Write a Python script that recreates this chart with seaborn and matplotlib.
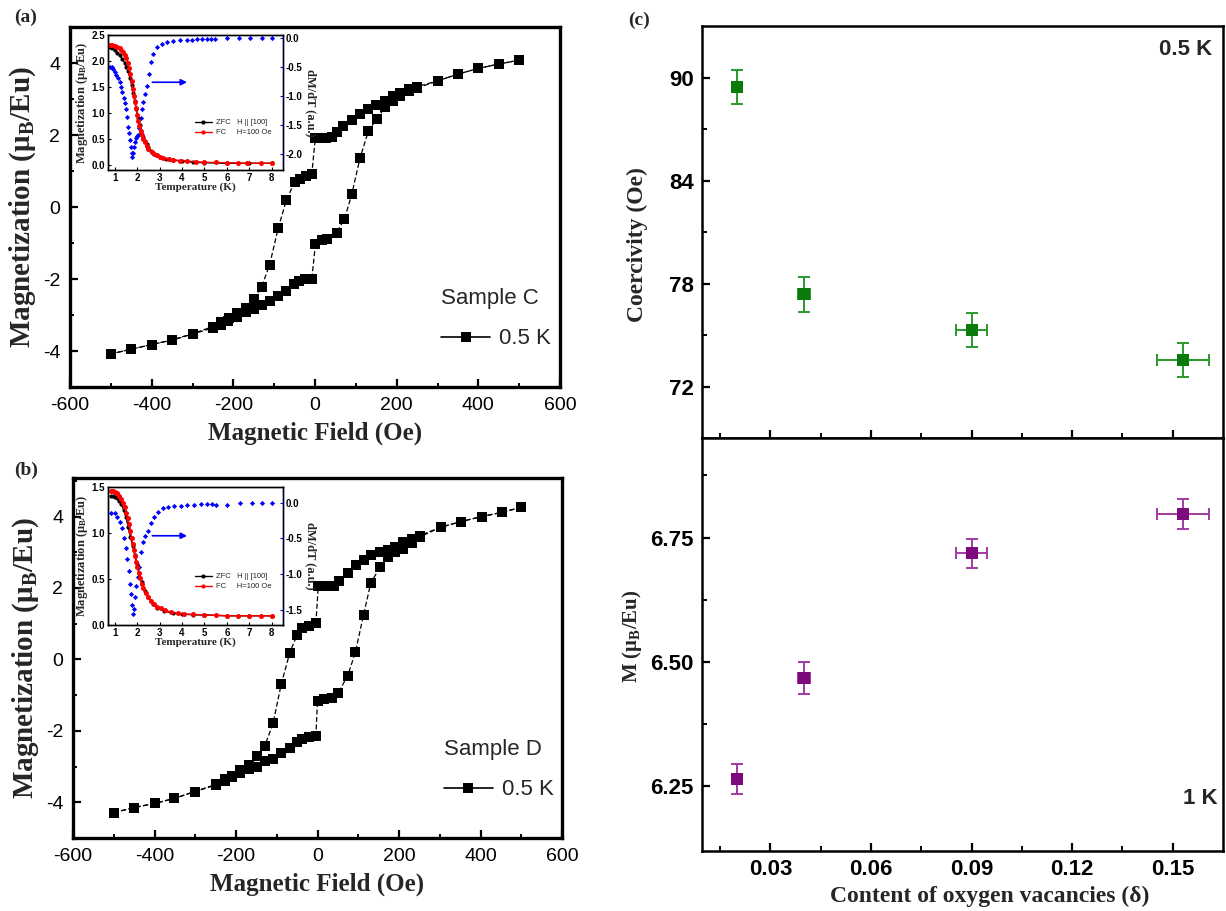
import matplotlib
matplotlib.use("Agg")
import matplotlib.pyplot as plt
from matplotlib.lines import Line2D
from matplotlib.ticker import MultipleLocator, FixedLocator, FormatStrFormatter
from matplotlib import font_manager
import seaborn as sns

# ---------------- Hysteresis loops at 0.5 K ----------------
# Sample C, field sweep +500 -> -500 Oe
c_down_H = [500, 450, 400, 350, 302, 249, 231, 208, 190, 172, 149, 131, 110, 90, 69, 53, 41, 28, 14, 1,
            -8, -22, -36, -50, -70, -90, -111, -131, -150, -168, -190, -210, -231, -250, -300, -350,
            -400, -450, -500]
c_down_M = [4.08, 3.97, 3.85, 3.69, 3.51, 3.34, 3.28, 3.18, 3.09, 2.95, 2.84, 2.72, 2.58, 2.41, 2.25,
            2.07, 1.95, 1.92, 1.92, 1.93, 0.91, 0.86, 0.79, 0.70, 0.19, -0.58, -1.60, -2.23, -2.55,
            -2.80, -2.95, -3.08, -3.20, -3.32, -3.52, -3.69, -3.82, -3.95, -4.08]
# Sample C, field sweep -500 -> +500 Oe
c_up_H = [-500, -450, -400, -350, -300, -250, -231, -213, -190, -168, -150, -131, -111, -90, -70, -51,
          -38, -24, -8, 1, 17, 30, 53, 72, 90, 110, 131, 151, 172, 190, 208, 231, 249, 302, 350, 400,
          450, 500]
c_up_M = [-4.08, -3.95, -3.82, -3.70, -3.53, -3.36, -3.27, -3.17, -3.05, -2.93, -2.83, -2.73, -2.62,
          -2.48, -2.32, -2.15, -2.06, -2.01, -2.01, -1.04, -0.93, -0.90, -0.71, -0.34, 0.35, 1.35,
          2.12, 2.44, 2.78, 2.95, 3.09, 3.21, 3.30, 3.51, 3.69, 3.85, 3.97, 4.08]

# Sample D
d_down_H = [500, 453, 403, 352, 302, 251, 233, 210, 191, 173, 153, 131, 113, 95, 74, 53, 40, 28, 15, 2,
            -4, -22, -39, -50, -68, -89, -109, -129, -149, -169, -190, -209, -227, -250, -301, -351,
            -399, -451, -500]
d_down_M = [4.26, 4.12, 4.00, 3.86, 3.70, 3.47, 3.38, 3.29, 3.15, 3.06, 3.00, 2.92, 2.78, 2.64, 2.41,
            2.19, 2.07, 2.05, 2.05, 2.06, 1.02, 0.93, 0.88, 0.69, 0.19, -0.69, -1.79, -2.41, -2.71,
            -2.96, -3.10, -3.25, -3.35, -3.50, -3.70, -3.89, -4.03, -4.15, -4.29]
d_up_H = [-500, -451, -399, -351, -301, -250, -227, -209, -190, -169, -149, -129, -109, -89, -68, -50,
          -39, -22, -4, 0, 17, 35, 51, 74, 93, 113, 131, 154, 173, 191, 211, 233, 251, 302, 352, 403,
          453, 500]
d_up_M = [-4.29, -4.15, -4.03, -3.89, -3.70, -3.52, -3.40, -3.29, -3.19, -3.08, -3.00, -2.85, -2.78,
          -2.62, -2.47, -2.31, -2.22, -2.16, -2.14, -1.16, -1.11, -1.09, -0.93, -0.46, 0.20, 1.25,
          2.15, 2.59, 2.87, 3.01, 3.10, 3.27, 3.43, 3.70, 3.86, 4.00, 4.12, 4.26]

# ---------------- M(T) insets (H || [100], H = 100 Oe) ----------------
c_fc_T = [0.78, 0.9, 1.0, 1.1, 1.22, 1.3, 1.37, 1.45, 1.52, 1.58, 1.64, 1.7, 1.75, 1.8, 1.85, 1.9,
          1.94, 2.0, 2.04, 2.1, 2.15, 2.2, 2.27, 2.35, 2.42, 2.5, 2.64, 2.75, 2.87, 3.0, 3.16, 3.4,
          3.61, 3.9, 4.21, 4.6, 4.96, 5.5, 6.0, 6.5, 6.9, 7.5, 8.0]
c_fc_M = [2.30, 2.30, 2.29, 2.27, 2.24, 2.21, 2.18, 2.12, 2.05, 1.96, 1.86, 1.74, 1.61, 1.46, 1.32,
          1.20, 1.10, 0.96, 0.84, 0.74, 0.65, 0.57, 0.50, 0.43, 0.37, 0.31, 0.25, 0.21, 0.18, 0.15,
          0.13, 0.11, 0.10, 0.08, 0.07, 0.06, 0.05, 0.045, 0.04, 0.035, 0.03, 0.03, 0.03]
c_zfc_T = [0.78, 0.9, 1.0, 1.1, 1.22, 1.33, 1.45, 1.52, 1.6, 1.68, 1.75, 1.82, 1.9, 1.97, 2.04, 2.12,
           2.19, 2.27, 2.34, 2.42, 2.49, 2.6, 2.72, 2.85, 3.01, 3.3, 3.6, 4.0, 4.5, 5.0, 6.0, 7.0, 8.0]
c_zfc_M = [2.27, 2.24, 2.21, 2.16, 2.11, 2.04, 1.96, 1.88, 1.80, 1.67, 1.54, 1.39, 1.23, 1.07, 0.91,
           0.76, 0.62, 0.54, 0.46, 0.40, 0.34, 0.27, 0.22, 0.18, 0.15, 0.11, 0.09, 0.07, 0.05, 0.04,
           0.03, 0.03, 0.03]
c_dmdt_T = [0.78, 0.86, 0.93, 1.0, 1.07, 1.15, 1.22, 1.28, 1.34, 1.40, 1.45, 1.50, 1.55, 1.60, 1.64,
            1.67, 1.71, 1.75, 1.79, 1.83, 1.87, 1.91, 1.95, 2.0, 2.05, 2.1, 2.15, 2.2, 2.24, 2.35, 2.45,
            2.54, 2.6, 2.72, 2.87, 3.09, 3.31, 3.61, 3.91, 4.21, 4.45, 4.66, 4.9, 5.1, 5.3, 5.48, 6.0,
            6.52, 7.04, 7.57, 8.01]
c_dmdt = [-0.49, -0.50, -0.52, -0.57, -0.63, -0.69, -0.75, -0.83, -0.92, -1.02, -1.12, -1.22, -1.35,
          -1.52, -1.64, -1.75, -1.88, -1.98, -2.04, -1.98, -1.88, -1.78, -1.72, -1.68, -1.66, -1.55,
          -1.38, -1.22, -1.09, -0.95, -0.82, -0.61, -0.40, -0.26, -0.14, -0.09, -0.06, -0.04, -0.03,
          -0.02, -0.02, -0.01, -0.01, -0.01, -0.01, -0.01, 0.0, 0.0, 0.0, 0.01, 0.01]

d_fc_T = [0.85, 0.93, 1.0, 1.1, 1.2, 1.3, 1.38, 1.45, 1.52, 1.58, 1.64, 1.7, 1.75, 1.8, 1.85, 1.9,
          1.95, 2.0, 2.06, 2.12, 2.2, 2.28, 2.38, 2.5, 2.62, 2.75, 2.9, 3.05, 3.25, 3.5, 3.8, 4.1,
          4.5, 5.0, 5.5, 6.0, 6.5, 7.0, 7.5, 8.0]
d_fc_M = [1.46, 1.46, 1.45, 1.43, 1.40, 1.37, 1.33, 1.28, 1.22, 1.16, 1.10, 1.02, 0.95, 0.88, 0.81,
          0.75, 0.69, 0.63, 0.57, 0.51, 0.45, 0.40, 0.35, 0.30, 0.26, 0.23, 0.20, 0.18, 0.16, 0.14,
          0.13, 0.12, 0.115, 0.11, 0.105, 0.10, 0.10, 0.10, 0.10, 0.10]
d_zfc_T = [0.85, 0.93, 1.0, 1.1, 1.2, 1.3, 1.4, 1.5, 1.6, 1.7, 1.8, 1.9, 2.0, 2.1, 2.2, 2.35, 2.5,
           2.7, 2.9, 3.2, 3.6, 4.0, 4.5, 5.0, 6.0, 7.0, 8.0]
d_zfc_M = [1.40, 1.40, 1.39, 1.38, 1.35, 1.31, 1.25, 1.17, 1.07, 0.96, 0.86, 0.76, 0.66, 0.56, 0.47,
           0.37, 0.30, 0.23, 0.19, 0.15, 0.13, 0.12, 0.11, 0.11, 0.10, 0.10, 0.10]
d_dmdt_T = [0.85, 1.0, 1.12, 1.22, 1.32, 1.41, 1.49, 1.56, 1.63, 1.69, 1.74, 1.78, 1.81, 1.85, 1.91,
            1.97, 2.03, 2.1, 2.18, 2.25, 2.36, 2.47, 2.62, 2.77, 2.92, 3.14, 3.36, 3.65, 3.95, 4.24,
            4.54, 4.83, 5.13, 5.35, 5.5, 6.0, 6.6, 7.12, 7.56, 8.0]
d_dmdt = [-0.15, -0.15, -0.20, -0.27, -0.36, -0.50, -0.64, -0.78, -0.95, -1.13, -1.27, -1.43, -1.55,
          -1.48, -1.32, -1.16, -1.04, -0.90, -0.69, -0.55, -0.46, -0.39, -0.29, -0.20, -0.13, -0.08,
          -0.06, -0.05, -0.04, -0.03, -0.03, -0.02, -0.02, -0.02, -0.03, -0.03, -0.01, 0.0, 0.0, 0.0]

# ---------------- Panel (c): coercivity and magnetization vs delta ----------------
delta = [0.020, 0.040, 0.090, 0.153]
delta_err = [0.0, 0.0018, 0.0047, 0.0078]
coercivity = [89.46, 77.36, 75.28, 73.54]
coercivity_err = [1.0, 1.0, 1.0, 1.0]
moment = [6.265, 6.467, 6.718, 6.798]
moment_err = [0.030, 0.032, 0.030, 0.030]

# ---------------- Styling ----------------
sns.set_theme(style="ticks")
SERIF = "Liberation Serif"
SANS = "Liberation Sans"
names = {f.name for f in font_manager.fontManager.ttflist}
NARROW = "Liberation Sans Narrow" if "Liberation Sans Narrow" in names else SANS
plt.rcParams.update({
    "font.family": [SANS, "DejaVu Sans"],
    "axes.unicode_minus": False,
    "mathtext.fontset": "custom",
    "mathtext.rm": "Liberation Serif:bold",
    "mathtext.bf": "Liberation Serif:bold",
    "mathtext.it": "Liberation Serif:italic:bold",
    "xtick.direction": "in",
    "ytick.direction": "in",
    "axes.edgecolor": "black",
    "xtick.color": "black",
    "ytick.color": "black",
})

W, H = 1226, 911
fig = plt.figure(figsize=(W / 100, H / 100), dpi=100)
fig.patch.set_facecolor("white")


def place(left, top, right, bottom):
    return fig.add_axes([left / W, 1 - bottom / H, (right - left) / W, (bottom - top) / H])


def style_frame(ax, lw):
    for s in ax.spines.values():
        s.set_linewidth(lw)
        s.set_color("black")


def loop_panel(ax, hd, md, hu, mu, sample):
    for hs, ms in ((hd, md), (hu, mu)):
        sns.lineplot(x=hs, y=ms, ax=ax, sort=False, estimator=None, color="black",
                     linewidth=0.9, linestyle=(0, (4, 2)), marker="s", markersize=7.5,
                     markeredgewidth=0, legend=False)
    ax.set_xlim(-600, 600)
    ax.set_ylim(-5, 5)
    ax.xaxis.set_major_locator(MultipleLocator(200))
    ax.xaxis.set_minor_locator(MultipleLocator(100))
    ax.yaxis.set_major_locator(MultipleLocator(2))
    ax.yaxis.set_minor_locator(MultipleLocator(1))
    ax.tick_params(which="major", length=6, width=1.6, labelsize=14, pad=7)
    ax.tick_params(which="minor", length=3, width=1.4)
    ax.tick_params(top=False, right=False, which="both")
    style_frame(ax, 2.4)
    ax.set_xlabel("Magnetic Field (Oe)", family=SERIF, weight="bold", fontsize=18, labelpad=6)
    ax.set_ylabel("Magnetization (μ$_\\mathrm{B}$/Eu)", family=SERIF, weight="bold",
                  fontsize=21)
    ax.yaxis.set_label_coords(-0.066, 0.5)
    h = Line2D([], [], color="black", lw=1.2, marker="s", markersize=7.5, markeredgewidth=0)
    leg = ax.legend(handles=[h], labels=["0.5 K"], title=sample, loc="upper left",
                    bbox_to_anchor=(0.74, 0.30), frameon=False, fontsize=16,
                    title_fontsize=16, handlelength=2.2, handletextpad=0.4,
                    alignment="left", borderaxespad=0)
    leg.get_title().set_family(SANS)
    leg._legend_box.sep = 14


def inset_panel(ax, zT, zM, fT, fM, bT, bV, ylim, yticks, rlim, rticks, arrow_y):
    tw = ax.twinx()
    ax.set_zorder(tw.get_zorder() + 1)
    ax.patch.set_visible(False)
    tw.patch.set_visible(True)
    tw.patch.set_facecolor("white")
    sns.scatterplot(x=bT, y=bV, ax=tw, color="blue", marker="D", s=7, linewidth=0, legend=False)
    sns.lineplot(x=zT, y=zM, ax=ax, color="black", lw=1.0, marker="o", markersize=3,
                 markeredgewidth=0, legend=False, sort=False, estimator=None)
    sns.lineplot(x=fT, y=fM, ax=ax, color="red", lw=1.0, marker="o", markersize=3.6,
                 markeredgewidth=0, legend=False, sort=False, estimator=None)
    ax.set_xlim(0.7, 8.5)
    ax.set_ylim(*ylim)
    ax.set_yticks(yticks)
    ax.yaxis.set_major_formatter(FormatStrFormatter("%.1f"))
    ax.set_xticks(range(1, 9))
    tw.set_ylim(*rlim)
    tw.set_yticks(rticks)
    tw.yaxis.set_major_formatter(FormatStrFormatter("%.1f"))
    for a in (ax, tw):
        a.tick_params(which="major", length=2.5, width=0.8, labelsize=7, pad=2)
        for lab in a.get_xticklabels() + a.get_yticklabels():
            lab.set_fontweight("bold")
    tw.tick_params(axis="y", colors="blue", labelcolor="black")
    style_frame(ax, 1.0)
    style_frame(tw, 1.0)
    tw.spines["right"].set_color("blue")
    ax.set_xlabel("Temperature (K)", family=SERIF, weight="bold", fontsize=8, labelpad=0)
    ax.set_ylabel("Magnetization (μ$_\\mathrm{B}$/Eu)", family=SERIF, weight="bold",
                  fontsize=9, labelpad=1)
    tw.set_ylabel("dM/dT (a.u.)", family=SERIF, weight="bold", fontsize=9, rotation=270,
                  labelpad=10)
    ax.annotate("", xy=(4.35, arrow_y), xytext=(2.55, arrow_y),
                arrowprops=dict(arrowstyle="-|>", color="blue", lw=1.2, mutation_scale=9))
    hz = Line2D([], [], color="black", lw=1.0, marker="o", markersize=3, markeredgewidth=0)
    hf = Line2D([], [], color="red", lw=1.0, marker="o", markersize=3, markeredgewidth=0)
    ax.legend(handles=[hz, hf], labels=["ZFC   H || [100]", "FC     H=100 Oe"],
              loc="upper left", bbox_to_anchor=(0.48, 0.40), frameon=False, fontsize=5.5,
              handlelength=2.2, handletextpad=0.5, labelspacing=0.35, borderaxespad=0)


# ---- (a) Sample C ----
ax_a = place(70, 27, 560, 387)
loop_panel(ax_a, c_down_H, c_down_M, c_up_H, c_up_M, "Sample C")
in_a = place(108, 35, 283, 170)
inset_panel(in_a, c_zfc_T, c_zfc_M, c_fc_T, c_fc_M, c_dmdt_T, c_dmdt,
            (-0.1, 2.47), [0.0, 0.5, 1.0, 1.5, 2.0, 2.5], (-2.27, 0.06),
            [0.0, -0.5, -1.0, -1.5, -2.0], 1.59)

# ---- (b) Sample D ----
ax_b = place(73, 478, 562, 838)
loop_panel(ax_b, d_down_H, d_down_M, d_up_H, d_up_M, "Sample D")
ax_b.set_ylim(-5, 5.08)
in_b = place(108, 487, 283, 625)
inset_panel(in_b, d_zfc_T, d_zfc_M, d_fc_T, d_fc_M, d_dmdt_T, d_dmdt,
            (0.0, 1.5), [0.0, 0.5, 1.0, 1.5], (-1.71, 0.22),
            [0.0, -0.5, -1.0, -1.5], 0.97)

# ---- (c) stacked panels ----
GREEN, GREEN_BAR = "#0a7a0a", "#2a9a2a"
PURPLE, PURPLE_BAR = "#7d0a7d", "#a33aa3"

ax_c1 = place(702, 26, 1223, 438)
ax_c2 = place(702, 438, 1223, 851)

ax_c1.errorbar(delta, coercivity, yerr=coercivity_err, xerr=delta_err, fmt="none",
               ecolor=GREEN_BAR, elinewidth=1.4, capsize=4, capthick=1.4)
sns.scatterplot(x=delta, y=coercivity, ax=ax_c1, color=GREEN, marker="s", s=70,
                linewidth=0, legend=False, zorder=3)
ax_c2.errorbar(delta, moment, yerr=moment_err, xerr=delta_err, fmt="none",
               ecolor=PURPLE_BAR, elinewidth=1.4, capsize=4, capthick=1.4)
sns.scatterplot(x=delta, y=moment, ax=ax_c2, color=PURPLE, marker="s", s=70,
                linewidth=0, legend=False, zorder=3)

for ax in (ax_c1, ax_c2):
    ax.set_xlim(0.0096, 0.165)
    ax.xaxis.set_major_locator(FixedLocator([0.03, 0.06, 0.09, 0.12, 0.15]))
    ax.xaxis.set_minor_locator(FixedLocator([0.015, 0.045, 0.075, 0.105, 0.135]))
    ax.tick_params(which="major", length=6, width=1.6, labelsize=16, pad=6)
    ax.tick_params(which="minor", length=3.5, width=1.4)
    ax.tick_params(top=False, right=False, which="both")
    style_frame(ax, 1.8)

ax_c1.set_ylim(69, 93)
ax_c1.yaxis.set_major_locator(FixedLocator([72, 78, 84, 90]))
ax_c1.yaxis.set_minor_locator(FixedLocator([75, 81, 87]))
ax_c1.tick_params(axis="x", labelbottom=False)
ax_c1.set_xlabel("")
ax_c1.set_ylabel("Coercivity (Oe)", family=SERIF, weight="bold", fontsize=17)
ax_c1.yaxis.set_label_coords(-0.104, 0.47)
ax_c1.text(0.98, 0.942, "0.5 K", transform=ax_c1.transAxes, ha="right", va="center",
           family=NARROW, weight="bold", fontsize=16)

ax_c2.set_ylim(6.12, 6.95)
ax_c2.yaxis.set_major_locator(FixedLocator([6.25, 6.50, 6.75]))
ax_c2.yaxis.set_minor_locator(FixedLocator([6.375, 6.625, 6.875]))
ax_c2.yaxis.set_major_formatter(FormatStrFormatter("%.2f"))
ax_c2.set_ylabel("M (μ$_\\mathrm{B}$/Eu)", family=SERIF, weight="bold", fontsize=15)
ax_c2.yaxis.set_label_coords(-0.112, 0.52)
ax_c2.set_xlabel("Content of oxygen vacancies (δ)", family=SERIF, weight="bold", fontsize=17)
ax_c2.xaxis.set_label_coords(0.553, -0.084)
ax_c2.text(0.99, 0.128, "1 K", transform=ax_c2.transAxes, ha="right", va="center",
           family=NARROW, weight="bold", fontsize=16)
for lab in ax_c1.get_yticklabels() + ax_c2.get_yticklabels() + ax_c2.get_xticklabels():
    lab.set_family(NARROW)
    lab.set_fontweight("bold")

# panel letters
for txt, x, y in (("(a)", 14, 17), ("(b)", 14, 470), ("(c)", 628, 20)):
    fig.text(x / W, 1 - y / H, txt, family=SERIF, weight="bold", fontsize=14,
             ha="left", va="center")

fig.savefig("out.png", dpi=100, facecolor="white")
